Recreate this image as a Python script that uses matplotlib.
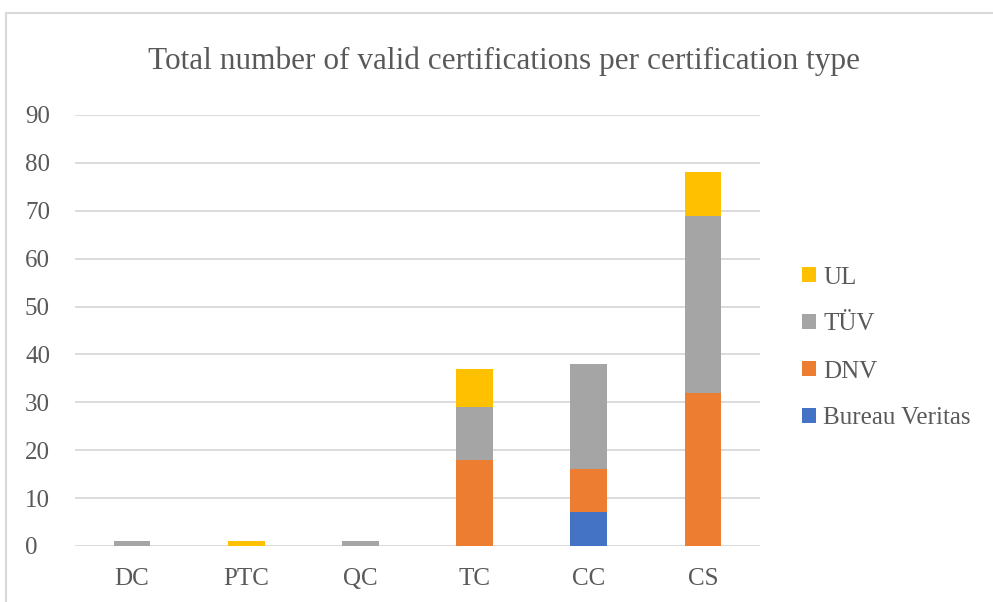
import numpy as np
import matplotlib.pyplot as plt
from matplotlib.patches import Rectangle

# data
categories = ['DC', 'PTC', 'QC', 'TC', 'CC', 'CS']
bureau_veritas = [0, 0, 0, 0, 7, 0]
dnv = [0, 0, 0, 18, 9, 32]
tuv = [1, 0, 1, 11, 22, 37]
ul = [0, 1, 0, 8, 0, 9]

series = [('Bureau Veritas', bureau_veritas, '#4472C4'),
          ('DNV', dnv, '#ED7D31'),
          ('TÜV', tuv, '#A5A5A5'),
          ('UL', ul, '#FFC000')]

plt.rcParams['font.family'] = ['Liberation Serif', 'DejaVu Serif']

fig = plt.figure(figsize=(9.93, 6.02), dpi=100)
# outer chart frame (only left and top edges visible)
fig.patches.append(Rectangle((6 / 993, -0.01), 1.2, 1 - 13 / 602 + 0.01, transform=fig.transFigure,
                             fill=False, edgecolor='#D9D9D9', linewidth=1.5))

ax = fig.add_axes([75 / 993, 1 - 546 / 602, 685 / 993, 431 / 602])

x = np.arange(len(categories))
bottom = np.zeros(len(categories))
handles = []
for name, vals, color in series:
    b = ax.bar(x, vals, width=0.32, bottom=bottom, color=color, label=name, zorder=3)
    handles.append(b)
    bottom += np.array(vals)

ax.set_xlim(-0.5, len(categories) - 0.5)
ax.set_ylim(0, 90)
ax.set_yticks(range(0, 91, 10))
ax.set_xticks(x)
ax.set_xticklabels(categories)
ax.grid(axis='y', color='#D9D9D9', linewidth=1.3, zorder=0)
for s in ax.spines.values():
    s.set_visible(False)
ax.tick_params(axis='both', length=0, labelsize=18, colors='#595959')
ax.tick_params(axis='x', pad=16)
ax.tick_params(axis='y', pad=36)
for lbl in ax.get_yticklabels():
    lbl.set_horizontalalignment('left')

fig.text(0.508, 1 - 61 / 602, 'Total number of valid certifications per certification type',
         ha='center', va='center', fontsize=22.5, color='#595959')

leg = fig.legend(handles[::-1], [s[0] for s in series][::-1],
                 loc='center left', bbox_to_anchor=(779 / 993, 1 - 348 / 602),
                 frameon=False, fontsize=18, labelcolor='#595959',
                 handlelength=0.56, handleheight=0.56, handletextpad=0.3,
                 labelspacing=1.0)

fig.savefig('out.png', dpi=100)
